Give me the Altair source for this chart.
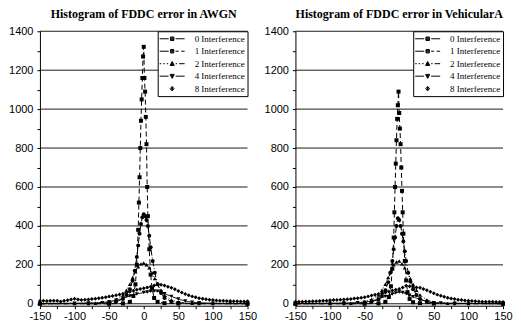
import altair as alt
import pandas as pd

SERIES = ["0 Interference", "1 Interference", "2 Interference", "4 Interference", "8 Interference"]
TITLES = ["Histogram of FDDC error in AWGN", "Histogram of FDDC error in VehicularA"]
X_TICKS = [-150, -125, -100, -75, -50, -25, 0, 25, 50, 75, 100, 125, 150]
Y_TICKS = [0, 100, 200, 300, 400, 500, 600, 700, 800, 900, 1000, 1100, 1200, 1300, 1400]
GRID_Y = [0, 200, 400, 600, 800, 1000, 1200, 1400]

# ---------------- AWGN ----------------
awgn_x0 = [-150, -50, -30, -20, -15, -12, -10, -8, -7, -6, -5, -4, -3, -2, -1, 0, 1, 2, 3, 4, 5, 6, 8, 10, 12, 15, 20, 30, 50, 150]
awgn_y0 = [0, 0, 2, 10, 40, 100, 200, 380, 520, 650, 800, 940, 1050, 1160, 1270, 1320, 1160, 1090, 960, 820, 600, 450, 280, 150, 80, 30, 10, 3, 1, 0]
awgn_x1 = [-150, -80, -50, -40, -30, -25, -20, -16, -13, -10, -8, -6, -4, -2, 0, 2, 4, 6, 8, 10, 13, 16, 20, 25, 30, 40, 50, 80, 150]
awgn_y1 = [0, 1, 4, 10, 25, 45, 75, 120, 170, 240, 300, 360, 410, 445, 460, 450, 430, 400, 350, 290, 220, 160, 100, 55, 30, 12, 5, 1, 0]
awgn_x2 = [-150, -100, -70, -50, -40, -30, -25, -20, -16, -12, -8, -4, 0, 4, 8, 12, 16, 20, 25, 30, 40, 50, 70, 100, 150]
awgn_y2 = [0, 1, 3, 10, 22, 45, 70, 100, 135, 165, 190, 205, 210, 200, 185, 160, 130, 100, 70, 45, 20, 8, 2, 1, 0]
awgn_x3 = [-150, -100, -80, -60, -50, -40, -30, -20, -10, 0, 5, 10, 15, 20, 25, 30, 40, 50, 60, 70, 80, 100, 125, 150]
awgn_y3 = [2, 3, 4, 6, 10, 18, 28, 40, 50, 58, 60, 64, 66, 65, 60, 52, 38, 24, 14, 8, 5, 3, 2, 2]
awgn_x4 = [-150, -145, -140, -135, -130, -125, -120, -115, -110, -105, -100, -95, -90, -85, -80, -75, -70, -65, -60, -55,
           -50, -45, -40, -35, -30, -25, -20, -15, -10, -5, 0, 5, 10, 15, 20, 25, 30, 35, 40, 45,
           50, 55, 60, 65, 70, 75, 80, 85, 90, 95, 100, 105, 110, 115, 120, 125, 130, 135, 140, 145, 150]
awgn_y4 = [14, 15, 14, 15, 16, 15, 12, 16, 18, 22, 26, 22, 20, 21, 22, 24, 26, 28, 31, 34,
           37, 40, 44, 48, 52, 57, 62, 67, 72, 76, 80, 84, 88, 94, 100, 98, 94, 88, 82, 74,
           66, 58, 50, 44, 38, 33, 29, 26, 23, 21, 19, 17, 16, 15, 14, 14, 13, 13, 12, 12, 13]

# ---------------- VehicularA ----------------
veh_x0 = [-150, -50, -30, -20, -15, -12, -10, -8, -7, -6, -5, -4, -3, -2, -1, 0, 1, 2, 3, 4, 5, 6, 8, 10, 12, 15, 20, 30, 50, 150]
veh_y0 = [0, 0, 2, 10, 35, 90, 180, 340, 470, 600, 720, 840, 950, 1020, 1090, 980, 900, 820, 700, 580, 470, 360, 220, 120, 60, 25, 8, 3, 1, 0]
veh_x1 = [-150, -80, -50, -40, -30, -25, -20, -16, -13, -10, -8, -6, -4, -2, 0, 2, 4, 6, 8, 10, 13, 16, 20, 25, 30, 40, 50, 80, 150]
veh_y1 = [0, 1, 4, 10, 22, 40, 70, 110, 160, 220, 280, 340, 400, 440, 430, 400, 360, 320, 270, 220, 160, 115, 75, 45, 25, 10, 4, 1, 0]
veh_x2 = [-150, -100, -70, -50, -40, -30, -25, -20, -16, -12, -8, -4, 0, 4, 8, 12, 16, 20, 25, 30, 40, 50, 70, 100, 150]
veh_y2 = [0, 1, 3, 10, 22, 45, 70, 100, 135, 170, 200, 215, 220, 205, 185, 160, 130, 100, 70, 45, 20, 8, 2, 1, 0]
veh_x3 = [-150, -100, -80, -60, -50, -40, -30, -20, -10, -5, 0, 5, 10, 15, 20, 30, 40, 50, 60, 80, 100, 150]
veh_y3 = [2, 3, 4, 5, 8, 14, 24, 38, 50, 56, 60, 58, 52, 44, 36, 22, 12, 6, 4, 3, 2, 2]
veh_x4 = awgn_x4
veh_y4 = [10, 11, 11, 12, 12, 13, 13, 14, 15, 16, 18, 19, 20, 21, 22, 23, 25, 27, 29, 31,
          34, 38, 42, 46, 50, 54, 58, 63, 68, 72, 76, 84, 92, 90, 86, 84, 82, 76, 70, 62,
          54, 47, 41, 36, 31, 27, 24, 21, 19, 17, 15, 14, 13, 12, 11, 11, 10, 10, 9, 9, 9]

PANELS = [
    [(awgn_x0, awgn_y0), (awgn_x1, awgn_y1), (awgn_x2, awgn_y2), (awgn_x3, awgn_y3), (awgn_x4, awgn_y4)],
    [(veh_x0, veh_y0), (veh_x1, veh_y1), (veh_x2, veh_y2), (veh_x3, veh_y3), (veh_x4, veh_y4)],
]

DASHES = [[5, 3], [6, 2, 1, 2], [1, 2], [1, 0]]
SHAPES = ["square", "circle", "triangle-up", "triangle-down", "diamond"]
# legend glyphs: line segments + marker (marker hatched so that the stroke fills it)
LEG_PATHS = [
    "M-2.5,0H-0.7M0.7,0H2.5M-0.35,-0.35H0.35V0.35H-0.35ZM-0.35,-0.18H0.35M-0.35,0H0.35M-0.35,0.18H0.35",
    "M-2.5,0H-0.7M0.7,0H1.3M1.8,0H2.5M-0.3,-0.35H0.3L0.35,0L0.3,0.35H-0.3L-0.35,0ZM-0.35,-0.18H0.35M-0.35,0H0.35M-0.35,0.18H0.35",
    "M-2.5,0H-2.2M-1.8,0H-1.5M-1.1,0H-0.8M0.7,0H1.0M1.4,0H2.5M0,-0.45L0.42,0.35H-0.42ZM-0.3,0.17H0.3M-0.18,-0.05H0.18M0,-0.3V0.35",
    "M-2.5,0H-0.7M0.7,0H2.5M-0.42,-0.35H0.42L0,0.45ZM-0.3,-0.17H0.3M-0.18,0.05H0.18M0,0.3V-0.35",
    "M0,-0.45L0.38,0L0,0.45L-0.38,0ZM-0.2,0H0.2M0,-0.3V0.3M-0.12,-0.15H0.12M-0.12,0.15H0.12",
]

SANS = "Liberation Sans"
SERIF = "Liberation Serif"


def y_enc(field):
    ax = alt.Axis(values=Y_TICKS, title=None, grid=False,
                  labelExpr="datum.value % 200 == 0 ? '' + datum.value : ''",
                  labelFont=SANS, labelFontSize=11, labelColor="black",
                  domainColor="black", tickColor="black", tickSize=3,
                  labelPadding=4)
    return alt.Y(field, type="quantitative", scale=alt.Scale(domain=[-10, 1400], nice=False), axis=ax)


def x_enc(field):
    return alt.X(field, type="quantitative", scale=alt.Scale(domain=[-150, 150], nice=False),
                 axis=alt.Axis(values=X_TICKS, title=None, grid=False,
                               labelExpr="datum.value % 50 == 0 ? '' + datum.value : ''",
                               labelFont=SANS, labelFontSize=11, labelColor="black",
                               domainColor="black", tickColor="black", tickSize=3,
                               labelPadding=2, labelFlush=False))


def panel(title, series_data):
    rows = []
    for name, (xs, ys) in zip(SERIES, series_data):
        for xv, yv in zip(xs, ys):
            rows.append({"x": xv, "y": yv, "series": name})
    df = pd.DataFrame(rows)
    grid_df = pd.DataFrame({"g": GRID_Y})

    grid = alt.Chart(grid_df).mark_rule(color="black", strokeWidth=0.9).encode(
        y=y_enc("g")
    )
    lines = alt.Chart(df).transform_filter(
        alt.datum.series != "8 Interference"
    ).mark_line(color="black", strokeWidth=1).encode(
        x=x_enc("x"), y=y_enc("y"),
        strokeDash=alt.StrokeDash("series:N", scale=alt.Scale(domain=SERIES[:4], range=DASHES), legend=None),
        detail="series:N",
    )
    points = alt.Chart(df).mark_point(filled=True, color="black", opacity=1, size=16).encode(
        x=x_enc("x"), y=y_enc("y"),
        shape=alt.Shape("series:N", scale=alt.Scale(domain=SERIES, range=SHAPES), legend=None),
    )
    leg = alt.Chart(df).transform_filter("false").mark_point(
        filled=False, color="black", strokeWidth=1, opacity=1
    ).encode(
        x=x_enc("x"), y=y_enc("y"),
        shape=alt.Shape("series:N", scale=alt.Scale(domain=SERIES, range=LEG_PATHS),
                        legend=alt.Legend(title=None, orient="top-right", offset=0, padding=2,
                                          strokeColor="black", fillColor="white",
                                          symbolSize=100, symbolOffset=7, labelOffset=17,
                                          symbolStrokeColor="black",
                                          symbolStrokeWidth=1, symbolOpacity=1,
                                          labelFont=SERIF, labelFontSize=9, labelColor="black",
                                          rowPadding=1.5, cornerRadius=0)),
    )
    return alt.layer(grid, lines, points, leg).resolve_scale(shape="independent").properties(
        width=208, height=275,
        title=alt.Title(title, font=SERIF, fontSize=12, fontWeight="bold", color="black", offset=4),
    )


chart = alt.hconcat(panel(TITLES[0], PANELS[0]), panel(TITLES[1], PANELS[1]), spacing=6).resolve_scale(
    shape="independent", strokeDash="independent"
).resolve_legend(shape="independent").configure(padding=0).configure_view(stroke=None).configure_axis(
    tickWidth=1, domainWidth=1
).configure_legend(labelFont=SERIF)

chart.save("out.html", embed_options={"renderer": "svg", "actions": False})
